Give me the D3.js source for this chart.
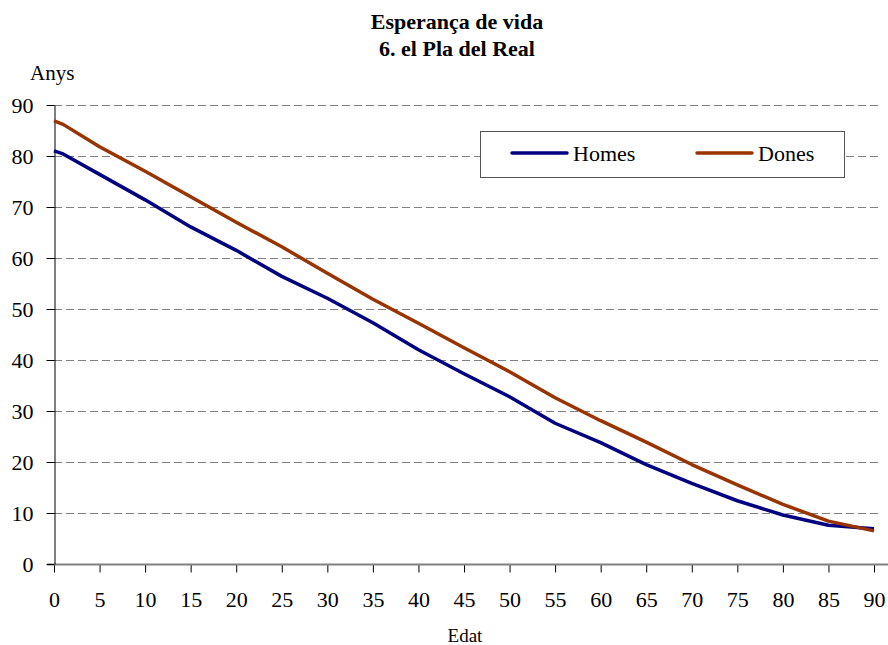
<!DOCTYPE html>
<html>
<head>
<meta charset="utf-8">
<script src="https://cdn.jsdelivr.net/npm/d3@7"></script>
<style>
  body { margin: 0; background: #fff; }
  text { font-family: "Liberation Serif", "Times New Roman", serif; fill: #000; }
</style>
</head>
<body>
<svg id="svg" width="888" height="645"></svg>
<script>
// life expectancy by age
var ages  = [0, 1, 5, 10, 15, 20, 25, 30, 35, 40, 45, 50, 55, 60, 65, 70, 75, 80, 85, 90];
var homes = [81.0, 80.4, 76.4, 71.4, 66.1, 61.5, 56.4, 52.1, 47.3, 42.0, 37.3, 32.8, 27.6, 23.8, 19.5, 15.8, 12.4, 9.6, 7.6, 6.9];
var dones = [86.9, 86.2, 81.8, 77.0, 72.0, 67.0, 62.2, 57.0, 51.9, 47.2, 42.4, 37.7, 32.6, 28.1, 23.9, 19.5, 15.5, 11.7, 8.4, 6.5];
var xTicks = d3.range(0, 91, 5);
var yTicks = d3.range(0, 91, 10);
var seriesNames = ["Homes", "Dones"];
var seriesColors = ["#000080", "#993300"];

var width = 888, height = 645;
var margin = {top: 105, right: 14, bottom: 81, left: 54};

var svg = d3.select("#svg");

var x = d3.scaleLinear()
  .domain([0, 90])
  .range([margin.left, 874]);

var y = d3.scaleLinear()
  .domain([0, 90])
  .range([height - margin.bottom, margin.top]);

// titles
svg.append("text")
    .attr("x", 457).attr("y", 29)
    .attr("text-anchor", "middle")
    .attr("font-weight", "bold")
    .style("font-size", "22px")
    .text("Esperança de vida");
svg.append("text")
    .attr("x", 457).attr("y", 56)
    .attr("text-anchor", "middle")
    .attr("font-weight", "bold")
    .style("font-size", "22px")
    .text("6. el Pla del Real");
svg.append("text")
    .attr("x", 30).attr("y", 80)
    .style("font-size", "21px")
    .text("Anys");

// grid
svg.append("g")
  .selectAll("line")
  .data(yTicks.filter(d => d > 0))
  .join("line")
    .attr("x1", margin.left)
    .attr("x2", width - 6)
    .attr("y1", d => Math.round(y(d)) + 0.5)
    .attr("y2", d => Math.round(y(d)) + 0.5)
    .attr("stroke", "#808080")
    .attr("stroke-dasharray", "8,4");

// x axis
var xAxis = svg.append("g")
    .attr("transform", "translate(0," + (Math.round(y(0)) + 0.5) + ")")
    .call(d3.axisBottom(x).tickValues(xTicks).tickSize(8).tickPadding(19).tickFormat(d3.format("d")));
xAxis.select(".domain").remove();
xAxis.append("line")
    .attr("x1", 47).attr("x2", width)
    .attr("stroke", "#808080").attr("stroke-width", 2);
xAxis.selectAll(".tick line").attr("stroke", "#000");
xAxis.selectAll("text").style("font-size", "22px");

// y axis
var yAxis = svg.append("g")
    .attr("transform", "translate(" + (margin.left + 0.5) + ",0)")
    .call(d3.axisLeft(y).tickValues(yTicks).tickSize(8).tickPadding(13).tickSizeOuter(0));
yAxis.select(".domain").attr("stroke", "#000");
yAxis.selectAll(".tick line").attr("stroke", "#000");
yAxis.selectAll("text").style("font-size", "22px");

svg.append("text")
    .attr("x", 465).attr("y", 642)
    .attr("text-anchor", "middle")
    .style("font-size", "19px")
    .text("Edat");

// lines
var line = d3.line()
    .x((d, i) => x(ages[i]))
    .y(d => y(d));

[homes, dones].forEach(function(vals, i) {
  svg.append("path")
      .datum(vals)
      .attr("fill", "none")
      .attr("stroke", seriesColors[i])
      .attr("stroke-width", 3.5)
      .attr("stroke-linejoin", "round")
      .attr("d", line);
});

// legend
var legend = svg.append("g").attr("transform", "translate(480,131)");
legend.append("rect")
    .attr("x", 0.5).attr("y", 0.5)
    .attr("width", 364).attr("height", 46)
    .attr("fill", "#fff")
    .attr("stroke", "#555");
var items = legend.selectAll("g.item")
  .data(seriesNames)
  .join("g")
    .attr("class", "item")
    .attr("transform", (d, i) => "translate(" + (32 + i * 185) + ",22)");
items.append("line")
    .attr("x1", 0).attr("x2", 55)
    .attr("stroke", (d, i) => seriesColors[i])
    .attr("stroke-width", 3.5)
    .attr("stroke-linecap", "round");
items.append("text")
    .attr("x", 61).attr("y", 8)
    .style("font-size", "22px")
    .text(d => d);
</script>
</body>
</html>
